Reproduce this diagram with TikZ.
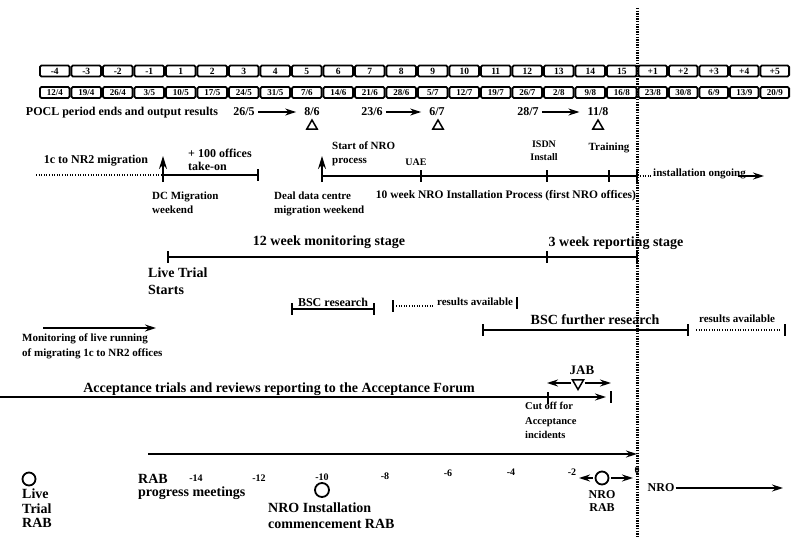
\documentclass[tikz,border=0pt]{standalone}
\usepackage{fontspec}
\setmainfont{Liberation Serif}
\usetikzlibrary{arrows.meta,shapes.geometric}
\begin{document}
\begin{tikzpicture}[x=1pt,y=-1pt,
  every node/.style={inner sep=0pt, font=\bfseries},
  wk/.style={draw, line width=1.8pt, rounded corners=1.4pt, fill=white, minimum height=11pt, font=\bfseries\fontsize{9.5}{10}\selectfont},
  ln/.style={line width=1.4pt},
  arr/.style={line width=1.4pt, -{Stealth[length=11pt,width=7pt]}},
  uarr/.style={line width=1.6pt, -{Stealth[length=13pt,width=8pt]}},
  dots/.style={line width=1.4pt, dash pattern=on 1pt off 1.6pt},
  vdots/.style={line width=2.2pt, dash pattern=on 1.4pt off 1.2pt},
  vtick/.pic={\draw[line width=1.6pt] (0,-6) -- (0,6);},
  tri/.style={draw, line width=1.5pt, regular polygon, regular polygon sides=3, minimum size=12pt},
  ring/.style={draw, circle, line width=1.8pt, minimum size=13pt},
  f10/.style={font=\bfseries\fontsize{10}{13}\selectfont},
  f11/.style={font=\bfseries\fontsize{11}{14}\selectfont},
  f12/.style={font=\bfseries\fontsize{12}{13}\selectfont},
  f14/.style={font=\bfseries\fontsize{14}{16}\selectfont},
]
\useasboundingbox (0,0) rectangle (792,536);

% vertical dotted divider
\coordinate (vt) at (637.5,8);
\coordinate (vb) at (637.5,536);
\draw[vdots] (vt) -- (vb);

% week boxes
\foreach \a [count=\i from 0] in {-4,-3,-2,-1,1,2,3,4,5,6,7,8,9,10,11,12,13,14,15,+1,+2,+3,+4,+5} {
  \pgfmathsetmacro\w{\i<19 ? 31.5 : 30.5}
  \pgfmathsetmacro\xc{\i<19 ? 39+31.5*\i+15.75 : 637.5+30.5*(\i-19)+15.25}
  \node[wk, minimum width=\w pt-1.8pt] (w\i) at (\xc,71) {\a};
}
% date boxes
\foreach \p/\q [count=\i from 0] in {12/4,19/4,26/4,3/5,10/5,17/5,24/5,31/5,7/6,14/6,21/6,28/6,5/7,12/7,19/7,26/7,2/8,9/8,16/8,23/8,30/8,6/9,13/9,20/9} {
  \pgfmathsetmacro\w{\i<19 ? 31.5 : 30.5}
  \pgfmathsetmacro\xc{\i<19 ? 39+31.5*\i+15.75 : 637.5+30.5*(\i-19)+15.25}
  \node[wk, minimum width=\w pt-1.8pt, font=\bfseries\fontsize{9}{10}\selectfont] (d\i) at (\xc,92.5) {\p/\q};
}

% POCL row
\node[f12] (pocl) at (122,113) {POCL period ends and output results};
\node[f12] (a1) at (244,112) {26/5};
\node[f12] (b1) at (312,112) {8/6};
\node[f12] (a2) at (372,112) {23/6};
\node[f12] (b2) at (437,112) {6/7};
\node[f12] (a3) at (528,112) {28/7};
\node[f12] (b3) at (598,112) {11/8};
\draw[arr, shorten <=3pt, shorten >=8pt] (a1) -- (b1);
\draw[arr, shorten <=3pt, shorten >=8pt] (a2) -- (b2);
\draw[arr, shorten <=3pt, shorten >=8pt] (a3) -- (b3);
\node[tri] (t1) at (312,126) {};
\node[tri] (t2) at (438,126) {};
\node[tri] (t3) at (598,126) {};

% migration row
\node[f12] (mig) at (96,161) {1c to NR2 migration};
\coordinate (m0) at (36,175);
\coordinate (dc) at (163,175);
\coordinate (dcb) at (163,182);
\coordinate (dct) at (163,156);
\coordinate (e1) at (258,175);
\draw[dots] (m0) -- (dc);
\draw[ln] (dc) -- (e1);
\pic at (e1) {vtick};
\draw[uarr] (dcb) -- (dct);
\node[f12, anchor=north west, align=left] (take) at (188,149) {+ 100 offices\\take-on};
\node[f11, anchor=north west, align=left] (dcm) at (152,192) {DC Migration\\weekend};

\coordinate (n0) at (322,176);
\coordinate (nb) at (322,182);
\coordinate (nt) at (322,156);
\coordinate (nu) at (421,176);
\coordinate (ni) at (547,176);
\coordinate (ntr) at (609,176);
\coordinate (nE) at (637,176);
\draw[ln] (n0) -- (nE);
\draw[uarr] (nb) -- (nt);
\pic at (nu) {vtick};
\pic at (ni) {vtick};
\pic at (ntr) {vtick};
\pic at (nE) {vtick};
\node[f11, anchor=north west, align=left] (snro) at (332,142) {Start of NRO\\process};
\node[f11, anchor=north west, align=left] (deal) at (274,192) {Deal data centre\\migration weekend};
\node[f10] (uae) at (416,162) {UAE};
\node[f10, anchor=north, align=center] (isdn) at (544,141) {ISDN\\Install};
\node[f11] (trn) at (609,148) {Training};
\node[font=\bfseries\fontsize{11.5}{13}\selectfont] (nro10) at (506,196) {10 week NRO Installation Process (first NRO offices)};
\node[f11, anchor=base west] (ong) at (653,176) {installation ongoing};
\coordinate (oe) at (764,176);
\draw[dots, shorten <=3pt, shorten >=1pt] (nE) -- (ong.base west);
\draw[arr] ([xshift=-8pt]ong.base east) -- (oe);

% monitoring / reporting
\node[f14] (mon) at (329,242) {12 week monitoring stage};
\node[f14] (rep) at (616,243) {3 week reporting stage};
\coordinate (l0) at (168,257);
\coordinate (l1) at (547,257);
\coordinate (l2) at (637,257);
\draw[ln] (l0) -- (l2);
\pic at (l0) {vtick};
\pic at (l1) {vtick};
\pic at (l2) {vtick};
\node[font=\bfseries\fontsize{14}{17}\selectfont, anchor=north west, align=left] (lts) at (148,268) {Live Trial\\Starts};

% BSC research
\node[f12] (bsc) at (333,302) {BSC research};
\coordinate (bs0) at (292,309);
\coordinate (bs1) at (374,309);
\draw[ln] (bs0) -- (bs1);
\pic at (bs0) {vtick};
\pic at (bs1) {vtick};
\coordinate (rs0) at (393,306);
\coordinate (rs1) at (517,303);
\node[f11] (res1) at (475,302) {results available};
\draw[dots, shorten <=3pt, shorten >=2pt] (rs0) -- (res1.west |- rs0);
\pic at (rs0) {vtick};
\pic at (rs1) {vtick};

\node[f14] (bscf) at (595,320) {BSC further research};
\coordinate (bf0) at (483,330);
\coordinate (bf1) at (688,330);
\draw[ln] (bf0) -- (bf1);
\pic at (bf0) {vtick};
\pic at (bf1) {vtick};
\node[f11] (res2) at (737,319) {results available};
\coordinate (rf1) at (785,330);
\draw[dots, shorten <=8pt, shorten >=4pt] (bf1) -- (rf1);
\pic at (rf1) {vtick};

% monitoring of live running
\coordinate (mo0) at (43,328);
\coordinate (mo1) at (156,328);
\draw[arr] (mo0) -- (mo1);
\node[font=\bfseries\fontsize{11}{15}\selectfont, anchor=north west, align=left] (molr) at (22,334) {Monitoring of live running\\of migrating 1c to NR2 offices};

% acceptance
\node[f14] (acc) at (279,389) {Acceptance trials and reviews reporting to the Acceptance Forum};
\coordinate (ac0) at (0,397);
\coordinate (ac1) at (606,397);
\coordinate (acu) at (548,398);
\coordinate (ace) at (611,397);
\draw[arr] (ac0) -- (ac1);
\pic at (acu) {vtick};
\pic at (ace) {vtick};
\node[font=\bfseries\fontsize{13}{14}\selectfont] (jab) at (582,370) {JAB};
\node[tri, shape border rotate=180, minimum size=13pt] (jt) at (578,383) {};
\coordinate (jl) at (547,383);
\coordinate (jr) at (611,383);
\draw[arr, shorten <=2pt] (jt) -- (jl);
\draw[arr, shorten <=2pt] (jt) -- (jr);
\node[font=\bfseries\fontsize{10.5}{14.5}\selectfont, anchor=north west, align=left] (cut) at (525,402) {Cut off for\\Acceptance\\incidents};

% RAB progress meetings
\coordinate (la0) at (148,454);
\coordinate (la1) at (637,454);
\draw[arr] (la0) -- (la1);
\node[f14, anchor=west] (rab) at (138,479) {RAB};
\node[f14, anchor=west] (prog) at (138,493) {progress meetings};
\node[f10] (m14) at (196,478) {-14};
\node[f10] (m12) at (259,478) {-12};
\node[f10] (m10) at (322,477) {-10};
\node[f10] (m8) at (385,476) {-8};
\node[f10] (m6) at (448,473) {-6};
\node[f10] (m4) at (511,472) {-4};
\node[f10] (m2) at (572,472) {-2};
\node[f10] (z0) at (637,470) {0};

\node[ring, minimum size=14pt] (c10) at (322,490) {};
\node[font=\bfseries\fontsize{14}{16}\selectfont, anchor=north west, align=left] (nic) at (268,503) {NRO Installation\\commencement RAB};

\node[ring] (clt) at (29,479) {};
\node[font=\bfseries\fontsize{14}{14.5}\selectfont, anchor=north west, align=left] (ltr) at (22,489) {Live\\Trial\\RAB};

\node[ring] (cn) at (602,478) {};
\coordinate (cnl) at (579,478);
\coordinate (cnr) at (633,478);
\draw[arr, shorten <=2pt] (cn) -- (cnl);
\draw[arr, shorten <=2pt] (cn) -- (cnr);
\node[font=\bfseries\fontsize{12}{13}\selectfont, anchor=north, align=center] (nrab) at (602,490) {NRO\\RAB};

\node[f12] (nro) at (661,488) {NRO};
\coordinate (nroe) at (783,488);
\draw[arr, shorten <=1pt] (nro) -- (nroe);
\end{tikzpicture}
\end{document}
